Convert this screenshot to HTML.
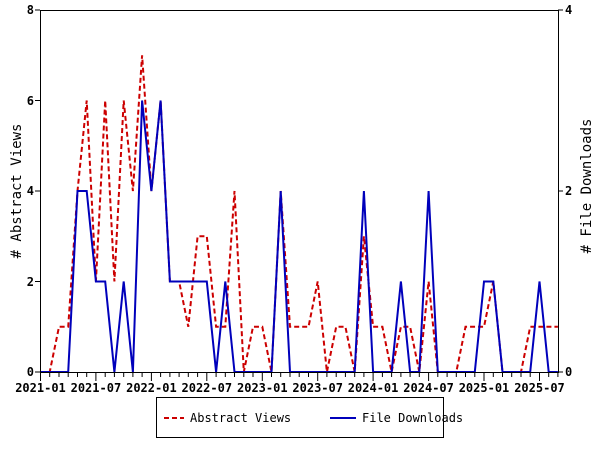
<!DOCTYPE html>
<html><head><style>body{margin:0;background:#fff}svg{display:block}text{font-family:"DejaVu Sans Mono","Liberation Mono",monospace;font-weight:bold;font-size:12px;fill:#000}</style></head>
<body>
<svg id="s" width="600" height="450" xmlns="http://www.w3.org/2000/svg">
<rect x="0" y="0" width="600" height="450" fill="#fff"/>
<g id="g"></g>
<rect x="40.5" y="10.5" width="518" height="362" fill="none" stroke="#000" stroke-width="1"/>
<text x="34" y="376" text-anchor="end">0</text>
<text x="34" y="286" text-anchor="end">2</text>
<text x="34" y="195" text-anchor="end">4</text>
<text x="34" y="105" text-anchor="end">6</text>
<text x="34" y="14" text-anchor="end">8</text>
<text x="565" y="376">0</text>
<text x="565" y="195">2</text>
<text x="565" y="14">4</text>
<text transform="translate(21,191) rotate(-90)" text-anchor="middle" style="font-size:14px;font-weight:normal">#  Abstract Views</text>
<text transform="translate(591,186) rotate(-90)" text-anchor="middle" style="font-size:14px;font-weight:normal"># File Downloads</text>
<rect x="156.5" y="397.5" width="287" height="40" fill="#fff" stroke="#000"/>
<line x1="164" y1="418" x2="184" y2="418" stroke="#cc0000" stroke-width="2" stroke-dasharray="5,3"/>
<text x="190" y="422" style="font-weight:normal">Abstract Views</text>
<line x1="330" y1="418" x2="356" y2="418" stroke="#0000bb" stroke-width="2"/>
<text x="362" y="422" style="font-weight:normal">File Downloads</text>
</svg>
<script>
var red=[0,0,1,1,4,6,2,6,2,6,4,7,4,6,2,2,1,3,3,1,1,4,0,1,1,0,4,1,1,1,2,0,1,1,0,3,1,1,0,1,1,0,2,0,0,0,1,1,1,2,0,0,0,1,1,1,1];
var blue=[0,0,0,0,4,4,2,2,0,2,0,6,4,6,2,2,2,2,2,0,2,0,0,0,0,0,4,0,0,0,0,0,0,0,0,4,0,0,0,2,0,0,4,0,0,0,0,0,2,2,0,0,0,0,2,0,0];
function X(i){return 40.5+9.24*i}function Y(v){return 372-45.25*v}
var g=document.getElementById('g'),h='';
for(var i=0;i<=56;i++){var x=X(i).toFixed(1);var L=(i%6==0&&i<=54);h+='<line x1="'+x+'" y1="372" x2="'+x+'" y2="'+(L?381:377)+'" stroke="#000"/>';
if(L)h+='<text x="'+x+'" y="392" text-anchor="middle">'+(2021+Math.floor(i/12))+'-'+(i%12==0?'01':'07')+'</text>';}
[372,281.5,191,100.5,10].forEach(function(y){h+='<line x1="35" y1="'+y+'" x2="40" y2="'+y+'" stroke="#000"/>'});
[372,191,10].forEach(function(y){h+='<line x1="558" y1="'+y+'" x2="563" y2="'+y+'" stroke="#000"/>'});
function pts(a){return a.map(function(v,i){return X(i).toFixed(1)+','+Y(v).toFixed(1)}).join(' ')}
h+='<polyline points="'+pts(red)+'" fill="none" stroke="#cc0000" stroke-width="2" stroke-dasharray="5,3"/>';
h+='<polyline points="'+pts(blue)+'" fill="none" stroke="#0000bb" stroke-width="2"/>';
g.innerHTML=h;
</script>
</body></html>
